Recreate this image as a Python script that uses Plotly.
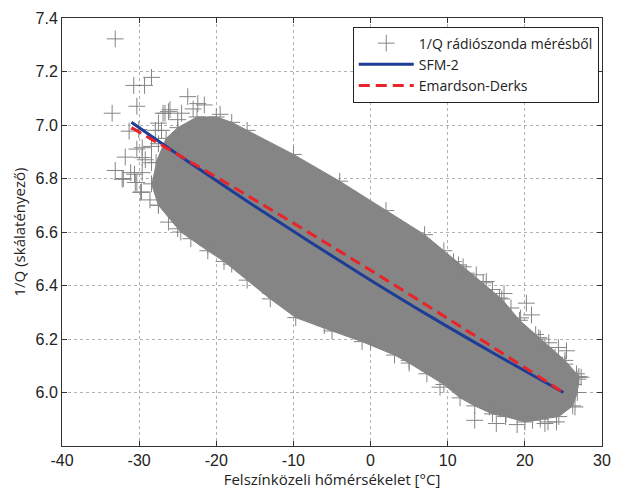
import plotly.graph_objects as go

# Dense core of the radiosonde cloud (envelope): upper edge L->R, lower edge R->L
cloud_x = [-27.8, -26.5, -25.0, -22.5, -20.0, -18.0, -16.0, -10.0, -4.0, 2.0, 7.0, 9.5, 12.0, 14.6, 17.0, 19.3, 22.0, 25.2, 27.0,
           26.8, 26.2, 24.4, 22.0, 20.0, 17.5, 15.8, 13.5, 11.6, 9.5, 7.3, 5.0, 3.1, -1.1, -5.0, -9.7, -13.0, -16.0, -19.0, -21.1, -24.6, -27.5, -28.4]
cloud_y = [6.86, 6.95, 6.99, 7.03, 7.03, 7.01, 6.98, 6.89, 6.79, 6.68, 6.59, 6.53, 6.47, 6.41, 6.35, 6.27, 6.20, 6.12, 6.06,
           6.00, 5.95, 5.91, 5.90, 5.89, 5.91, 5.92, 5.95, 5.98, 6.03, 6.07, 6.11, 6.14, 6.19, 6.23, 6.28, 6.35, 6.42, 6.49, 6.53, 6.60, 6.70, 6.78]

# Individual measurements visible outside / at the edge of the dense core
outlier_x = [-33.1, -28.4, -30.7, -29.3, -33.5, -30.3, -31.8, -33.1, -32.05, -30.6, -30.3, -29.6, -30.05, -31.3,
             -26.9, -26.2, -27.9, -27.5, -30.3, -29.7, -32.2, -31.1, -29.6, -30.5, -29.8, -28.6, -29.6, -29.2, -28.4,
             -26.65, -26.0, -23.7, -22.4, -21.55, -24.5, -27.5, -27.1, -28.4, -25.0, -23.0, -19.5,
             20.2, 20.86, 11.4, 13.7, 15.0, 17.3, 18.2, 21.4, 23.1, 25.4, 24.35, 26.7, 26.3, 25.2,
             10.75, 12.4, 15.8, 16.7, 19.45, 21.8, 22.6, 23.9, 25.6, 26.9,
             13.5, 16.3, 17.55, 21.0, 22.6, 24.1, 26.5, 26.7, 27.3, 15.4,
             -27.5, -26.2, -25.0, -23.3, -21.1, -18.0, -14.0, -6.0, 0.0, 5.0, 9.0, 19.0, 23.0]
outlier_y = [7.322, 7.178, 7.148, 7.148, 7.044, 7.07, 6.88, 6.83, 6.80, 6.816, 6.91, 6.878, 6.983, 6.977,
             7.044, 7.05, 6.98, 6.93, 6.785, 6.75, 6.797, 6.822, 6.822, 6.785, 6.748, 6.72, 6.915, 6.87, 6.92,
             7.044, 7.057, 7.106, 7.08, 7.075, 7.044, 7.007, 6.98, 6.859, 7.02, 7.06, 7.04,
             6.334, 6.29, 6.477, 6.44, 6.415, 6.37, 6.316, 6.217, 6.186, 6.156, 6.168, 6.07, 6.03, 6.106,
             6.489, 6.446, 6.385, 6.353, 6.279, 6.205, 6.168, 6.131, 6.07, 6.05,
             5.896, 5.884, 5.92, 5.896, 5.884, 5.89, 5.946, 6.057, 6.057, 5.946,
             6.70, 6.637, 6.612, 6.575, 6.55, 6.48, 6.40, 6.25, 6.19, 6.12, 6.02, 5.88, 5.89]

# Model curves
sfm2_x = [-31.0, -24.0, -16.0, -8.0, 0.0, 8.0, 16.0, 25.0]
sfm2_y = [7.01, 6.870, 6.715, 6.565, 6.42, 6.28, 6.146, 6.0]
ed_x = [-31.0, -24.0, -16.0, -8.0, 0.0, 8.0, 16.0, 25.0]
ed_y = [6.99, 6.873, 6.737, 6.598, 6.457, 6.313, 6.167, 6.0]

x_ticks = [-40, -30, -20, -10, 0, 10, 20, 30]
y_ticks = [6.0, 6.2, 6.4, 6.6, 6.8, 7.0, 7.2, 7.4]

GRAY = "#868585"

fig = go.Figure()
fig.add_trace(go.Scatter(x=cloud_x, y=cloud_y, mode="lines", fill="toself", fillcolor=GRAY,
                         line=dict(color=GRAY, width=1), showlegend=False, hoverinfo="skip"))
fig.add_trace(go.Scatter(x=outlier_x + cloud_x, y=outlier_y + cloud_y, mode="markers",
                         name="1/Q rádiószonda mérésből",
                         marker=dict(symbol="cross-thin-open", size=12, color=GRAY,
                                     line=dict(color=GRAY, width=1))))
fig.add_trace(go.Scatter(x=sfm2_x, y=sfm2_y, mode="lines", name="SFM-2",
                         line=dict(color="#1d3c96", width=3, shape="spline", smoothing=1.0)))
fig.add_trace(go.Scatter(x=ed_x, y=ed_y, mode="lines", name="Emardson-Derks",
                         line=dict(color="#e8232a", width=3, dash="11px,6px", shape="spline", smoothing=1.0)))

axis_common = dict(showline=True, linecolor="#333333", linewidth=1, mirror="ticks",
                   ticks="inside", ticklen=5, tickcolor="#333333",
                   showgrid=True, gridcolor="#b0b0b0", griddash="dot", gridwidth=1,
                   zeroline=False,
                   tickfont=dict(family="Liberation Sans, Arial", size=16, color="#222222"))

fig.update_layout(
    width=621, height=491,
    margin=dict(l=62, r=10, t=14, b=45),
    paper_bgcolor="white", plot_bgcolor="white",
    xaxis=dict(range=[-40, 30], tickvals=x_ticks, ticktext=[str(v) for v in x_ticks],
               title=dict(text="Felszínközeli hőmérsékelet [°C]", standoff=0,
                          font=dict(family="Open Sans", size=15, color="#222222")),
               **axis_common),
    yaxis=dict(range=[5.8, 7.4], tickvals=y_ticks, ticktext=[f"{v:.1f}" for v in y_ticks],
               title=dict(text="1/Q (skálatényező)", standoff=6,
                          font=dict(family="Open Sans", size=15, color="#222222")),
               **axis_common),
    legend=dict(x=0.994, y=0.98, xanchor="right", yanchor="top",
                bgcolor="white", bordercolor="#222222", borderwidth=1,
                font=dict(family="Open Sans", size=14, color="#222222"),
                itemwidth=55, tracegroupgap=0),
    showlegend=True,
)

fig.write_html("out.html")
